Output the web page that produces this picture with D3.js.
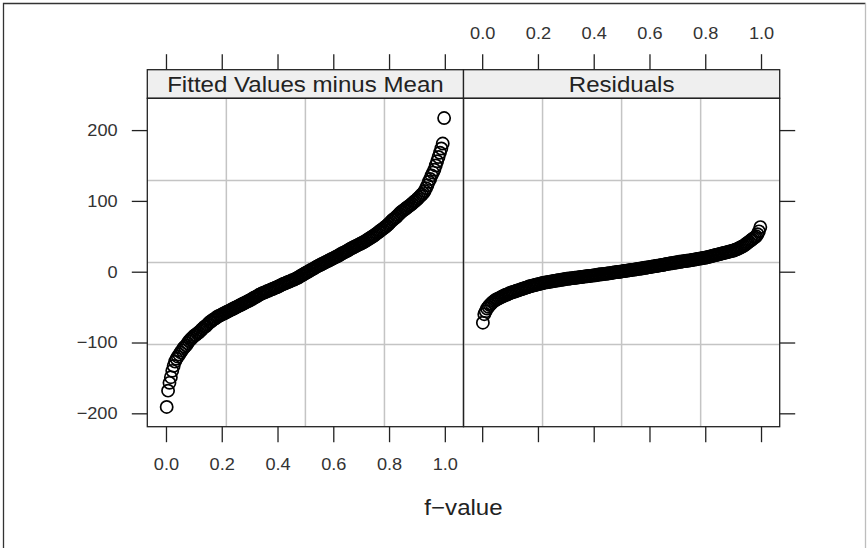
<!DOCTYPE html>
<html>
<head>
<meta charset="utf-8">
<script src="https://cdn.jsdelivr.net/npm/d3@7"></script>
<style>
  html, body { margin: 0; padding: 0; background: #fff; }
  svg { display: block; font-family: "Liberation Sans", Arial, Helvetica, sans-serif; }
</style>
</head>
<body>
<svg id="chart" width="868" height="548"></svg>
<script>
// ---------------- data (sorted quantiles) ----------------
const panelTitles = ["Fitted Values minus Mean", "Residuals"];
const xLabel = "f\u2212value";
const xTickValues = [0.0, 0.2, 0.4, 0.6, 0.8, 1.0];
const yTickValues = [-200, -100, 0, 100, 200];

const fittedMinusMean = [
  -191,-168,-157,-149,-140,-133,-127,-123,-120,-117,
  -114,-111,-108,-106,-104,-101,-98,-96,-94,-92,
  -90,-89,-87,-86,-84,-82,-80,-78,-77,-75,
  -73,-71,-70,-68,-67,-66,-64,-63,-62,-61,
  -60,-59,-58,-57,-56,-55,-54,-53,-52,-51,
  -50,-49,-48,-47,-46,-45,-44,-43,-42,-41,
  -40,-39,-37.5,-36.5,-35.5,-34.5,-33,-32,-31,-30,
  -29.5,-28.5,-27.5,-27,-26,-25,-24.5,-23.5,-22.5,-22,
  -21,-20,-19,-18,-17,-16.5,-15.5,-14.5,-14,-13,
  -12,-11.5,-10.5,-9.5,-8.5,-7.5,-6,-5,-4,-2.5,
  -1.5,-0.5,0.5,2,3,4,5,6.5,7.5,8.5,
  9.5,10.5,11.5,12.5,13.5,14.5,15.5,16.5,17.5,18.5,
  19.5,20.5,21.5,22.5,23.5,25,26,27,28,29,
  30,31.5,32.5,33.5,34.5,35.5,36.5,37.5,38.5,39.5,
  40.5,41.5,42.5,44,45,46.5,47.5,49,50,51.5,
  53,54.5,56,57.5,59,60.5,62,63.5,65,67,
  69,71,73,74.5,76,78,80,82,84,85.5,
  87,88.5,90,91.5,93,94.5,96,98,99.5,101,
  103,105,107,109,111,114,118,122,127,131,
  136,140,144,150,156,162,168,174,181,217
];

const residuals = [
  -72,-60,-56,-52,-49.5,-47,-45,-43,-41.5,-40,
  -39,-38,-37,-36,-35,-34,-33,-32.5,-31.5,-30.5,
  -30,-29,-28.5,-28,-27,-26.5,-26,-25,-24.5,-24,
  -23,-22.5,-22,-21,-20.5,-20,-19.5,-19,-18.5,-18,
  -17.5,-17,-16.5,-16,-15.5,-15,-15,-14.5,-14,-14,
  -13.5,-13,-13,-12.5,-12,-12,-11.5,-11,-11,-10.5,
  -10,-10,-9.5,-9.5,-9,-9,-8.5,-8.5,-8,-8,
  -7.5,-7.5,-7,-7,-6.5,-6.5,-6,-6,-5.5,-5.5,
  -5,-5,-4.5,-4,-4,-3.5,-3.5,-3,-3,-2.5,
  -2.5,-2,-2,-1.5,-1,-1,-0.5,-0.5,0,0,
  0.5,1,1,1.5,1.5,2,2.5,2.5,3,3,
  3.5,4,4,4.5,4.5,5,5.5,5.5,6,6.5,
  6.5,7,7.5,7.5,8,8.5,8.5,9,9.5,9.5,
  10,10.5,11,11,11.5,12,12,12.5,13,13,
  13.5,14,14,14.5,15,15,15.5,15.5,16,16,
  16.5,17,17,17.5,18,18.5,18.5,19,19.5,19.5,
  20,20.5,21,21.5,22,22.5,23,23.5,24,24.5,
  25,25.5,26,26.5,27,27.5,28,28.5,29,29.5,
  30,31,31.5,32.5,33.5,34.5,35.5,36.5,38,39.5,
  41,42.5,44,45.5,47,48.5,50,53,57,63
];

// ---------------- layout ----------------
const svg = d3.select("#chart");
const W = 868, H = 548;
const panelX = [147.3, 463.5];
const panelW = 316.2;
const stripTop = 69.7, stripBottom = 98.3, panelBottom = 426.7;
const tickLen = 15.5;
const tickFont = 17, titleFont = 22.5;
const sx = 1.07; // horizontal text stretch of the reference
const ink = "#222";

const y = d3.scaleLinear().domain([-218.9, 244.9]).range([panelBottom, stripBottom]);
const xScales = panelX.map(px => d3.scaleLinear().domain([-0.067, 1.067]).range([px, px + panelW]));

// frame
svg.append("path").attr("d", `M3.5,${H} V3.5 H865.5`).attr("fill", "none")
  .attr("stroke", "#333").attr("stroke-width", 1.3);
svg.append("line").attr("x1", 865.5).attr("x2", 865.5).attr("y1", 3.5).attr("y2", H)
  .attr("stroke", "#bdbdbd").attr("stroke-width", 1.3);

function stretchText(sel) {
  sel.each(function() {
    const t = d3.select(this);
    const x = +t.attr("x") || 0;
    t.attr("x", null).attr("transform", `translate(${x},0) scale(${sx},1)`);
  });
}

const series = [fittedMinusMean, residuals];

series.forEach((vals, p) => {
  const x = xScales[p];
  const g = svg.append("g");
  const x0 = panelX[p], x1 = panelX[p] + panelW;

  // grid (3 equally spaced lines each way)
  const gx = [1, 2, 3].map(k => x0 + k * panelW / 4);
  const gy = [1, 2, 3].map(k => stripBottom + k * (panelBottom - stripBottom) / 4);
  g.selectAll(".gv").data(gx).join("line")
    .attr("x1", d => d).attr("x2", d => d).attr("y1", stripBottom).attr("y2", panelBottom)
    .attr("stroke", "#c4c4c4").attr("stroke-width", 1.5);
  g.selectAll(".gh").data(gy).join("line")
    .attr("x1", x0).attr("x2", x1).attr("y1", d => d).attr("y2", d => d)
    .attr("stroke", "#c4c4c4").attr("stroke-width", 1.5);

  // points
  const n = vals.length;
  g.selectAll("circle").data(vals).join("circle")
    .attr("cx", (d, i) => x((i + 0.5) / n))
    .attr("cy", d => y(d))
    .attr("r", 6.1)
    .attr("fill", "none")
    .attr("stroke", "#000")
    .attr("stroke-width", 1.7);

  // strip
  g.append("rect").attr("x", x0).attr("y", stripTop).attr("width", panelW).attr("height", stripBottom - stripTop)
    .attr("fill", "#efefef").attr("stroke", ink).attr("stroke-width", 1.3);
  g.append("text")
    .attr("transform", `translate(${(x0 + x1) / 2},91.7) scale(${sx},1)`)
    .attr("text-anchor", "middle").attr("font-size", titleFont).attr("fill", ink)
    .text(panelTitles[p]);

  // panel border
  g.append("rect").attr("x", x0).attr("y", stripBottom).attr("width", panelW).attr("height", panelBottom - stripBottom)
    .attr("fill", "none").attr("stroke", ink).attr("stroke-width", 1.3);

  // x axes: bottom labelled on left panel, top labelled on right panel
  const bottom = d3.axisBottom(x).tickValues(xTickValues).tickSize(tickLen).tickPadding(15.6)
    .tickFormat(p === 0 ? d3.format(".1f") : () => "");
  const top = d3.axisTop(x).tickValues(xTickValues).tickSize(tickLen).tickPadding(14.9)
    .tickFormat(p === 1 ? d3.format(".1f") : () => "");
  const gb = svg.append("g").attr("transform", `translate(0,${panelBottom})`).call(bottom);
  const gt = svg.append("g").attr("transform", `translate(0,${stripTop})`).call(top);
  [gb, gt].forEach(a => {
    a.select(".domain").remove();
    a.selectAll(".tick line").attr("stroke", ink).attr("stroke-width", 1.3);
    a.selectAll(".tick text").attr("font-size", tickFont).attr("fill", "#333")
      .attr("font-family", "Liberation Sans, Arial, sans-serif").call(stretchText);
  });
});

// y axes: left labelled on first panel, right ticks on second panel
const left = d3.axisLeft(y).tickValues(yTickValues).tickSize(tickLen).tickPadding(14.2);
const right = d3.axisRight(y).tickValues(yTickValues).tickSize(tickLen).tickFormat(() => "");
const gl = svg.append("g").attr("transform", `translate(${panelX[0]},0)`).call(left);
const gr = svg.append("g").attr("transform", `translate(${panelX[1] + panelW},0)`).call(right);
[gl, gr].forEach(a => {
  a.select(".domain").remove();
  a.selectAll(".tick line").attr("stroke", ink).attr("stroke-width", 1.3);
  a.selectAll(".tick text").attr("font-size", tickFont).attr("fill", "#333")
    .attr("font-family", "Liberation Sans, Arial, sans-serif").call(stretchText);
});

// x label
svg.append("text")
  .attr("transform", `translate(${(panelX[0] + panelX[1] + panelW) / 2},515) scale(${sx},1)`)
  .attr("text-anchor", "middle").attr("font-size", titleFont).attr("fill", ink)
  .text(xLabel);
</script>
</body>
</html>
